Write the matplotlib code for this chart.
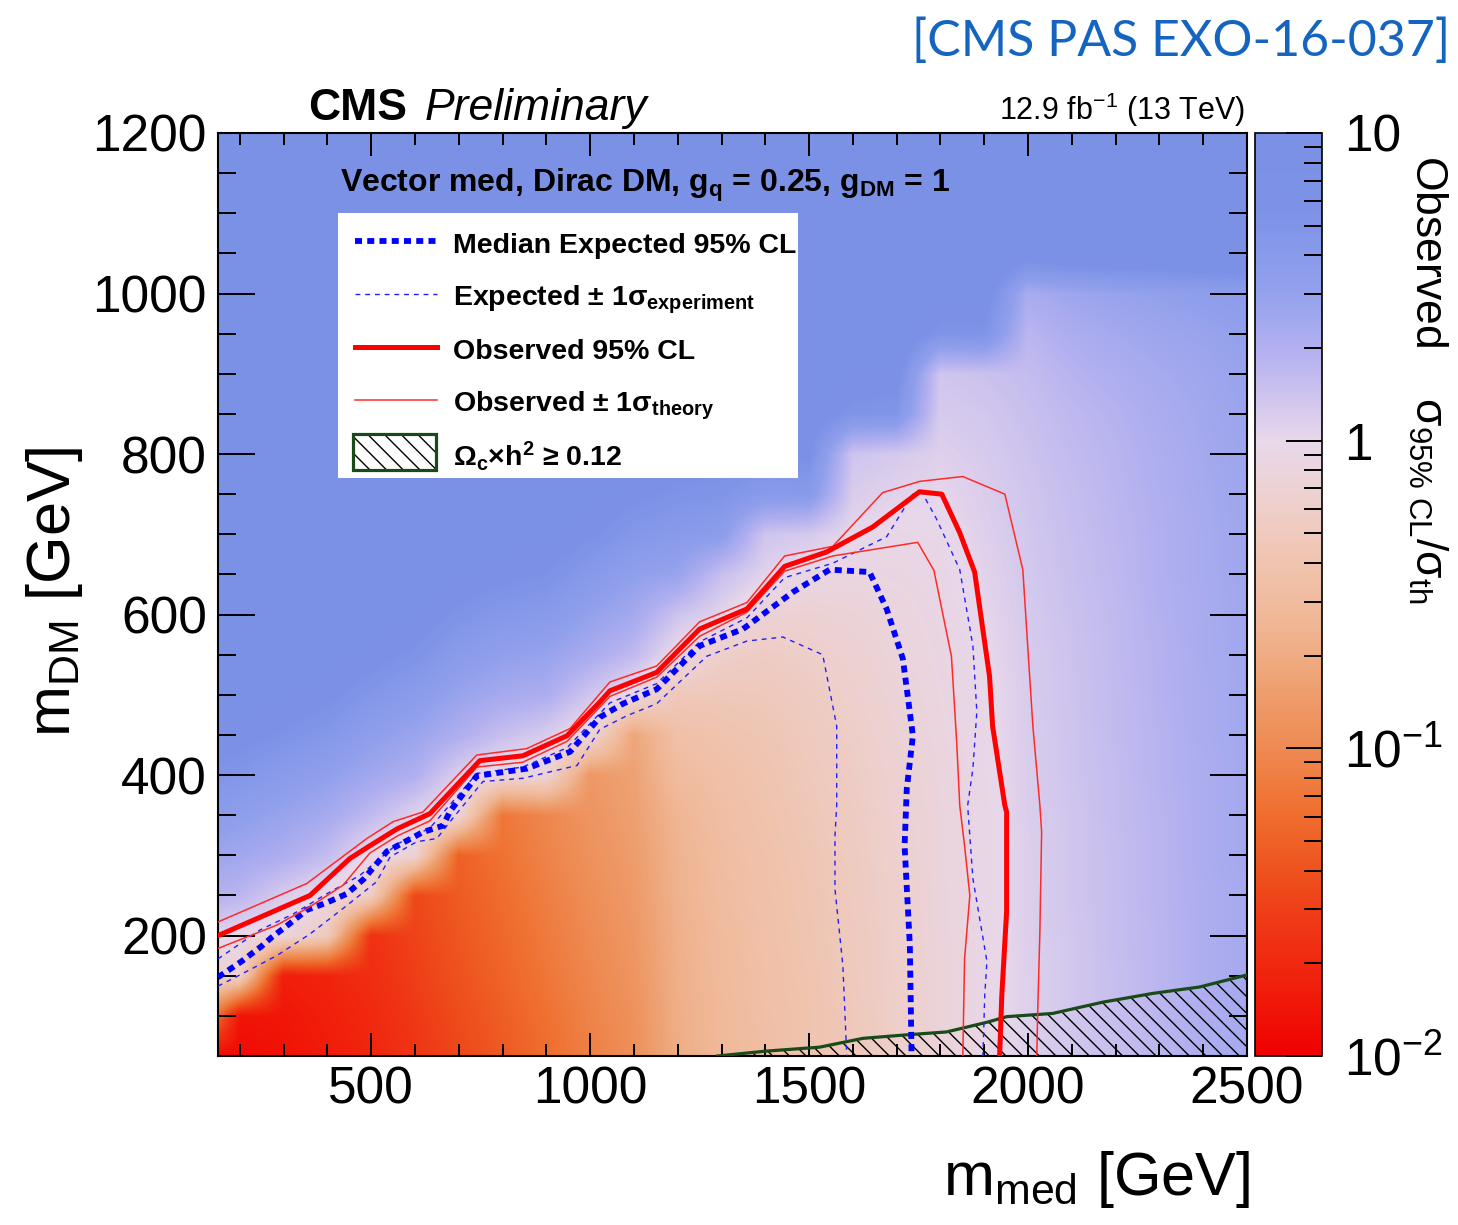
import numpy as np
import matplotlib
matplotlib.use("Agg")
import matplotlib.pyplot as plt
from matplotlib.colors import LinearSegmentedColormap, Normalize
from matplotlib.patches import Rectangle
from matplotlib.lines import Line2D
from matplotlib.ticker import FixedLocator
from matplotlib import font_manager

plt.rcParams['font.family'] = ['Liberation Sans', 'DejaVu Sans']
plt.rcParams['mathtext.fontset'] = 'custom'
plt.rcParams['mathtext.rm'] = 'Liberation Sans'
plt.rcParams['mathtext.bf'] = 'Liberation Sans:bold'
plt.rcParams['mathtext.it'] = 'Liberation Sans:italic'
plt.rcParams['mathtext.sf'] = 'Liberation Sans'
plt.rcParams['hatch.linewidth'] = 1.0

# ---------------- data ----------------
# heat-map nodes: log10(sigma95/sigma_th)
m_med_nodes = [100, 200, 300, 400, 500, 600, 700, 800, 900, 1000, 1100, 1200, 1300,
               1400, 1500, 1600, 1700, 1800, 1900, 2000, 2100, 2200, 2300, 2400, 2500]
m_dm_nodes = [50, 100, 150, 200, 250, 300, 350, 400, 450, 500, 550, 600, 650, 700,
              750, 800, 850, 900, 950, 1000, 1050, 1100, 1150, 1200]
# one list per m_med node, values for m_dm = 50 ... 1200
log_ratio_columns = [
    [-1.97, -0.60, -0.10, 0.07, 0.32, 0.45, 0.58, 0.73, 0.84, 0.93, 1.0, 1.0, 1.0, 1.0, 1.0, 1.0, 1.0, 1.0, 1.0, 1.0, 1.0, 1.0, 1.0, 1.0],
    [-1.92, -1.85, -0.20, -0.02, 0.25, 0.40, 0.52, 0.67, 0.80, 0.90, 0.98, 1.0, 1.0, 1.0, 1.0, 1.0, 1.0, 1.0, 1.0, 1.0, 1.0, 1.0, 1.0, 1.0],
    [-1.87, -1.84, -1.78, -0.10, 0.08, 0.33, 0.45, 0.58, 0.73, 0.84, 0.93, 1.0, 1.0, 1.0, 1.0, 1.0, 1.0, 1.0, 1.0, 1.0, 1.0, 1.0, 1.0, 1.0],
    [-1.80, -1.77, -1.73, -0.30, -0.05, 0.20, 0.37, 0.50, 0.65, 0.78, 0.88, 0.96, 1.0, 1.0, 1.0, 1.0, 1.0, 1.0, 1.0, 1.0, 1.0, 1.0, 1.0, 1.0],
    [-1.72, -1.69, -1.65, -1.62, -0.25, -0.03, 0.22, 0.40, 0.52, 0.67, 0.80, 0.90, 0.98, 1.0, 1.0, 1.0, 1.0, 1.0, 1.0, 1.0, 1.0, 1.0, 1.0, 1.0],
    [-1.60, -1.57, -1.53, -1.50, -1.47, -0.15, 0.04, 0.31, 0.44, 0.57, 0.72, 0.83, 0.92, 0.98, 1.0, 1.0, 1.0, 1.0, 1.0, 1.0, 1.0, 1.0, 1.0, 1.0],
    [-1.47, -1.44, -1.40, -1.37, -1.34, -1.30, -0.12, 0.06, 0.32, 0.45, 0.58, 0.72, 0.84, 0.93, 0.98, 1.0, 1.0, 1.0, 1.0, 1.0, 1.0, 1.0, 1.0, 1.0],
    [-1.35, -1.32, -1.28, -1.25, -1.22, -1.18, -1.15, -0.08, 0.18, 0.37, 0.50, 0.64, 0.78, 0.87, 0.95, 1.0, 1.0, 1.0, 1.0, 1.0, 1.0, 1.0, 1.0, 1.0],
    [-1.22, -1.19, -1.15, -1.12, -1.09, -1.05, -1.02, -0.12, 0.08, 0.33, 0.46, 0.60, 0.74, 0.85, 0.93, 0.98, 1.0, 1.0, 1.0, 1.0, 1.0, 1.0, 1.0, 1.0],
    [-1.08, -1.05, -1.02, -0.99, -0.96, -0.93, -0.90, -0.87, -0.10, 0.13, 0.35, 0.48, 0.62, 0.76, 0.86, 0.94, 0.98, 1.0, 1.0, 1.0, 1.0, 1.0, 1.0, 1.0],
    [-0.95, -0.93, -0.90, -0.88, -0.85, -0.83, -0.80, -0.78, -0.75, -0.06, 0.22, 0.38, 0.50, 0.65, 0.78, 0.88, 0.95, 0.98, 1.0, 1.0, 1.0, 1.0, 1.0, 1.0],
    [-0.68, -0.67, -0.66, -0.65, -0.63, -0.62, -0.60, -0.52, -0.45, -0.33, -0.05, 0.15, 0.45, 0.60, 0.72, 0.82, 0.90, 0.95, 0.98, 1.0, 1.0, 1.0, 1.0, 1.0],
    [-0.56, -0.55, -0.54, -0.53, -0.51, -0.50, -0.48, -0.45, -0.40, -0.33, -0.22, 0.02, 0.18, 0.55, 0.70, 0.80, 0.88, 0.93, 0.97, 1.0, 1.0, 1.0, 1.0, 1.0],
    [-0.48, -0.47, -0.46, -0.45, -0.44, -0.43, -0.41, -0.39, -0.36, -0.32, -0.26, -0.15, 0.03, 0.14, 0.60, 0.75, 0.83, 0.90, 0.95, 0.98, 1.0, 1.0, 1.0, 1.0],
    [-0.40, -0.40, -0.39, -0.38, -0.37, -0.36, -0.34, -0.32, -0.30, -0.27, -0.22, -0.16, -0.05, 0.10, 0.60, 0.78, 0.86, 0.92, 0.96, 0.98, 1.0, 1.0, 1.0, 1.0],
    [-0.32, -0.32, -0.31, -0.30, -0.29, -0.28, -0.27, -0.25, -0.23, -0.20, -0.17, -0.13, -0.07, 0.00, 0.08, 0.14, 0.70, 0.83, 0.90, 0.95, 0.98, 1.0, 1.0, 1.0],
    [-0.22, -0.22, -0.21, -0.21, -0.20, -0.19, -0.18, -0.17, -0.15, -0.13, -0.11, -0.09, -0.06, -0.03, 0.03, 0.10, 0.68, 0.82, 0.90, 0.95, 0.98, 1.0, 1.0, 1.0],
    [-0.12, -0.12, -0.12, -0.11, -0.11, -0.10, -0.10, -0.09, -0.08, -0.07, -0.06, -0.05, -0.04, -0.02, 0.01, 0.05, 0.09, 0.13, 0.70, 0.84, 0.93, 0.97, 1.0, 1.0],
    [-0.04, -0.04, -0.04, -0.04, -0.04, -0.04, -0.04, -0.03, -0.03, -0.02, -0.01, 0.01, 0.03, 0.05, 0.07, 0.09, 0.12, 0.16, 0.72, 0.86, 0.94, 0.97, 1.0, 1.0],
    [0.05, 0.05, 0.05, 0.06, 0.06, 0.06, 0.07, 0.07, 0.08, 0.08, 0.09, 0.10, 0.11, 0.12, 0.13, 0.15, 0.17, 0.20, 0.25, 0.35, 0.85, 0.95, 1.0, 1.0],
    [0.12, 0.12, 0.12, 0.12, 0.13, 0.13, 0.13, 0.14, 0.14, 0.15, 0.15, 0.16, 0.17, 0.18, 0.19, 0.21, 0.23, 0.27, 0.33, 0.42, 0.90, 0.96, 1.0, 1.0],
    [0.18, 0.18, 0.18, 0.19, 0.19, 0.19, 0.20, 0.20, 0.21, 0.21, 0.22, 0.22, 0.23, 0.24, 0.25, 0.26, 0.28, 0.32, 0.38, 0.46, 0.92, 0.97, 1.0, 1.0],
    [0.25, 0.25, 0.25, 0.25, 0.26, 0.26, 0.26, 0.27, 0.27, 0.28, 0.28, 0.29, 0.30, 0.30, 0.31, 0.32, 0.34, 0.37, 0.42, 0.49, 0.93, 0.97, 1.0, 1.0],
    [0.32, 0.32, 0.32, 0.32, 0.32, 0.33, 0.33, 0.33, 0.34, 0.34, 0.35, 0.35, 0.36, 0.36, 0.37, 0.38, 0.39, 0.41, 0.45, 0.52, 0.94, 0.98, 1.0, 1.0],
    [0.38, 0.38, 0.38, 0.38, 0.38, 0.39, 0.39, 0.39, 0.40, 0.40, 0.40, 0.41, 0.41, 0.42, 0.42, 0.43, 0.44, 0.46, 0.49, 0.55, 0.95, 0.98, 1.0, 1.0],
]

# contours (m_med, m_DM) in GeV
obs_x = [150, 360, 451, 497, 559, 634, 748, 846, 947, 1022, 1045, 1152, 1250, 1358, 1444, 1540, 1645, 1752, 1803, 1844, 1878, 1912, 1919, 1947, 1951, 1951, 1940, 1935]
obs_y = [200, 250, 296, 312, 333, 352, 418, 424, 449, 491, 505, 528, 582, 607, 660, 678, 709, 753, 750, 702, 653, 523, 461, 362, 354, 230, 125, 50]

obs_up_x = [150, 353, 490, 550, 618, 741, 855, 954, 1045, 1152, 1250, 1358, 1444, 1554, 1668, 1753, 1851, 1947, 1988, 2011, 2027, 2031, 2027, 2022, 2020]
obs_up_y = [217, 265, 321, 342, 354, 425, 433, 458, 516, 536, 591, 615, 673, 685, 752, 766, 772, 750, 656, 461, 362, 329, 205, 105, 50]

obs_dn_x = [150, 284, 360, 436, 497, 559, 634, 741, 846, 947, 1045, 1152, 1250, 1358, 1444, 1554, 1748, 1785, 1825, 1837, 1844, 1855, 1867, 1855, 1851]
obs_dn_y = [184, 213, 236, 263, 303, 324, 343, 410, 416, 442, 498, 522, 573, 603, 654, 673, 690, 655, 548, 441, 362, 312, 250, 171, 50]

exp_x = [150, 158, 204, 250, 273, 314, 353, 398, 444, 482, 516, 536, 618, 664, 680, 741, 855, 954, 1022, 1075, 1152, 1250, 1349, 1463, 1547, 1638, 1677, 1714, 1737, 1723, 1718, 1730, 1734]
exp_y = [148, 151, 168, 187, 198, 215, 232, 241, 252, 270, 292, 305, 329, 337, 355, 399, 408, 429, 472, 489, 507, 561, 582, 628, 656, 653, 607, 545, 449, 383, 312, 188, 50]

exp_up_x = [150, 246, 322, 398, 474, 559, 634, 741, 846, 947, 1045, 1152, 1250, 1358, 1444, 1554, 1677, 1737, 1757, 1791, 1844, 1874, 1883, 1874, 1862, 1874, 1906, 1901, 1897]
exp_up_y = [171, 207, 227, 252, 275, 314, 334, 402, 410, 434, 490, 514, 566, 596, 646, 664, 697, 750, 753, 719, 656, 561, 479, 408, 362, 271, 168, 125, 50]

exp_dn_x = [150, 207, 284, 360, 436, 512, 543, 604, 650, 680, 755, 846, 970, 1022, 1084, 1152, 1266, 1358, 1440, 1531, 1563, 1563, 1559, 1559, 1577, 1586]
exp_dn_y = [137, 153, 175, 202, 234, 267, 298, 317, 321, 342, 392, 396, 412, 457, 474, 489, 548, 567, 572, 550, 461, 362, 324, 258, 163, 50]

relic_x = [1291, 1400, 1524, 1623, 1714, 1814, 1906, 1951, 2056, 2170, 2285, 2392, 2500]
relic_y = [50, 56, 61, 72, 76, 80, 92, 99, 103, 117, 128, 136, 151]

x_major_ticks = [500, 1000, 1500, 2000, 2500]
y_major_ticks = [200, 400, 600, 800, 1000, 1200]

legend_labels = [
    'Median Expected 95% CL',
    r'Expected ± 1σ$_{\mathbf{experiment}}$',
    'Observed 95% CL',
    r'Observed ± 1σ$_{\mathbf{theory}}$',
    r'Ω$_{\mathbf{c}}$×h$^{\mathbf{2}}$ ≥ 0.12',
]

# ---------------- colours / styles ----------------
cmap_pos = [-2.0, -1.8, -1.6, -1.4, -1.2, -1.0, -0.8, -0.6, -0.4, -0.2, 0.0, 0.15, 0.3, 0.5, 0.75, 1.0]
cmap_hex = ['#f00000', '#f01c0a', '#f03414', '#ee521e', '#f07030', '#ee8a52', '#eea070',
            '#f0b694', '#f0c4af', '#eed0cd', '#e8d8eb', '#cdc3ee', '#b2b0f0', '#91a0ec',
            '#7d92e7', '#7a91e6']
cmap = LinearSegmentedColormap.from_list(
    'cms', [((p + 2.0) / 3.0, c) for p, c in zip(cmap_pos, cmap_hex)], N=512)
norm = Normalize(-2.0, 1.0)

W, H = 1458, 1225
fig = plt.figure(figsize=(W / 100, H / 100), dpi=100)
ax = fig.add_axes([218 / W, 1 - 1056 / H, (1247 - 218) / W, (1056 - 133) / H])
cax = fig.add_axes([1255 / W, 1 - 1056 / H, (1322 - 1255) / W, (1056 - 133) / H])

Z = np.array(log_ratio_columns).T
dx = m_med_nodes[1] - m_med_nodes[0]
dy = m_dm_nodes[1] - m_dm_nodes[0]
im = ax.imshow(Z, origin='lower', cmap=cmap, norm=norm, aspect='auto',
               extent=[m_med_nodes[0] - dx / 2, m_med_nodes[-1] + dx / 2,
                       m_dm_nodes[0] - dy / 2, m_dm_nodes[-1] + dy / 2],
               interpolation='bilinear', interpolation_stage='data', zorder=0)
ax.set_xlim(150, 2500)
ax.set_ylim(50, 1200)

# relic density hatch
ax.fill_between(relic_x, relic_y, 50, facecolor='none', edgecolor='black',
                hatch='\\\\', linewidth=0, zorder=2)
ax.plot(relic_x, relic_y, color='#1a4a1a', lw=2.3, zorder=3)

thin_blue = dict(color='#2020ff', lw=1.0, ls=(0, (3.5, 3.5)))
thick_blue = dict(color='#0000ff', lw=4.2, ls=(0, (1.2, 0.9)), dash_capstyle='butt')
thin_red = dict(color='#ff2a2a', lw=1.1, ls='-')
thick_red = dict(color='#ff0000', lw=3.6, ls='-')

ax.plot(exp_dn_x, exp_dn_y, zorder=4, **thin_blue)
ax.plot(exp_up_x, exp_up_y, zorder=4, **thin_blue)
ax.plot(exp_x, exp_y, zorder=4, **thick_blue)
ax.plot(obs_dn_x, obs_dn_y, zorder=5, **thin_red)
ax.plot(obs_up_x, obs_up_y, zorder=5, **thin_red)
ax.plot(obs_x, obs_y, zorder=5, **thick_red)

# ticks
ax.set_xticks(x_major_ticks)
ax.xaxis.set_minor_locator(FixedLocator(list(range(200, 2500, 100))))
ax.set_yticks(y_major_ticks)
ax.yaxis.set_minor_locator(FixedLocator(list(range(50, 1200, 50))))
ax.tick_params(axis='x', which='major', direction='in', length=16.5, width=1.4,
               top=True, labelsize=37, pad=6.5)
ax.tick_params(axis='x', which='minor', direction='in', length=8.6, width=1.4, top=True)
ax.tick_params(axis='y', which='major', direction='in', length=26.5, width=1.4,
               right=True, labelsize=37, pad=8)
ax.tick_params(axis='y', which='minor', direction='in', length=13, width=1.4, right=True)
for s in ax.spines.values():
    s.set_linewidth(1.5)

# colorbar
cb = fig.colorbar(im, cax=cax)
cb.outline.set_linewidth(1.2)
cb.set_ticks([-2, -1, 0, 1], labels=[r'$10^{-2}$', r'$10^{-1}$', '1', '10'])
minor = [np.log10(k) + e for e in (-2, -1, 0) for k in range(2, 10)]
cax.yaxis.set_minor_locator(FixedLocator(minor))
cax.tick_params(which='major', direction='in', length=26, width=1.4, labelsize=37,
                pad=16, right=True, left=False)
cax.tick_params(which='minor', direction='in', length=13, width=1.4, right=True, left=False)

fig.text(1428 / W, 1 - 155 / H, r'Observed    σ$_{\mathrm{95\%\ CL}}$/σ$_{\mathrm{th}}$',
         rotation=270, ha='center', va='top', fontsize=32)

# axis titles
fig.text(55 / W, 1 - 592 / H, r'm$_{\mathrm{DM}}$ [GeV]', rotation=90,
         ha='center', va='center', fontsize=44)
fig.text(1250 / W, 1 - 1195 / H, r'm$_{\mathrm{med}}$ [GeV]', ha='right',
         va='baseline', fontsize=44)

# header texts
fig.text(308 / W, 1 - 120 / H, 'CMS', fontsize=32, fontweight='bold', va='baseline')
fig.text(425 / W, 1 - 120 / H, 'Preliminary', fontsize=32, style='italic', va='baseline')
fig.text(1245 / W, 1 - 120 / H, r'12.9 fb$^{\mathrm{-1}}$ (13 TeV)', fontsize=22,
         ha='right', va='baseline')

names = {f.name for f in font_manager.fontManager.ttflist}
pas_family = ['Lato'] if 'Lato' in names else ['Open Sans']
fig.text(1450 / W, 1 - 56 / H, '[CMS PAS EXO-16-037]', fontsize=36, color='#1565c0',
         ha='right', va='baseline', family=pas_family + ['DejaVu Sans'])

# in-frame title
def afx(px):
    return (px - 218) / (1247 - 218)

def afy(py):
    return (1056 - py) / (1056 - 133)

ax.text(afx(340), afy(192), r'Vector med, Dirac DM, g$_{\mathbf{q}}$ = 0.25, g$_{\mathbf{DM}}$ = 1',
        transform=ax.transAxes, fontsize=23, fontweight='bold', va='baseline', zorder=7)

# legend (drawn by hand)
ax.add_patch(Rectangle((afx(338), afy(478)), afx(798) - afx(338), afy(213) - afy(478),
                       transform=ax.transAxes, facecolor='white', edgecolor='none', zorder=6))
row_py = [241, 294, 347, 400, 454]
styles = [thick_blue, thin_blue, thick_red, thin_red]
for py, st in zip(row_py[:4], styles):
    ax.add_line(Line2D([afx(355), afx(437)], [afy(py), afy(py)], transform=ax.transAxes,
                       zorder=7, **st))
ax.add_patch(Rectangle((afx(353), afy(470)), afx(436) - afx(353), afy(434) - afy(470),
                       transform=ax.transAxes, facecolor='white', edgecolor='black',
                       hatch='\\\\', lw=0, zorder=7))
ax.add_patch(Rectangle((afx(353), afy(470)), afx(436) - afx(353), afy(434) - afy(470),
                       transform=ax.transAxes, facecolor='none', edgecolor='#1a4a1a',
                       lw=2.3, zorder=8))
for py, lab in zip(row_py, legend_labels):
    ax.text(afx(453), afy(py + 12), lab, transform=ax.transAxes, fontsize=20.5,
            fontweight='bold', va='baseline', zorder=9)

fig.savefig('out.png', dpi=100)
